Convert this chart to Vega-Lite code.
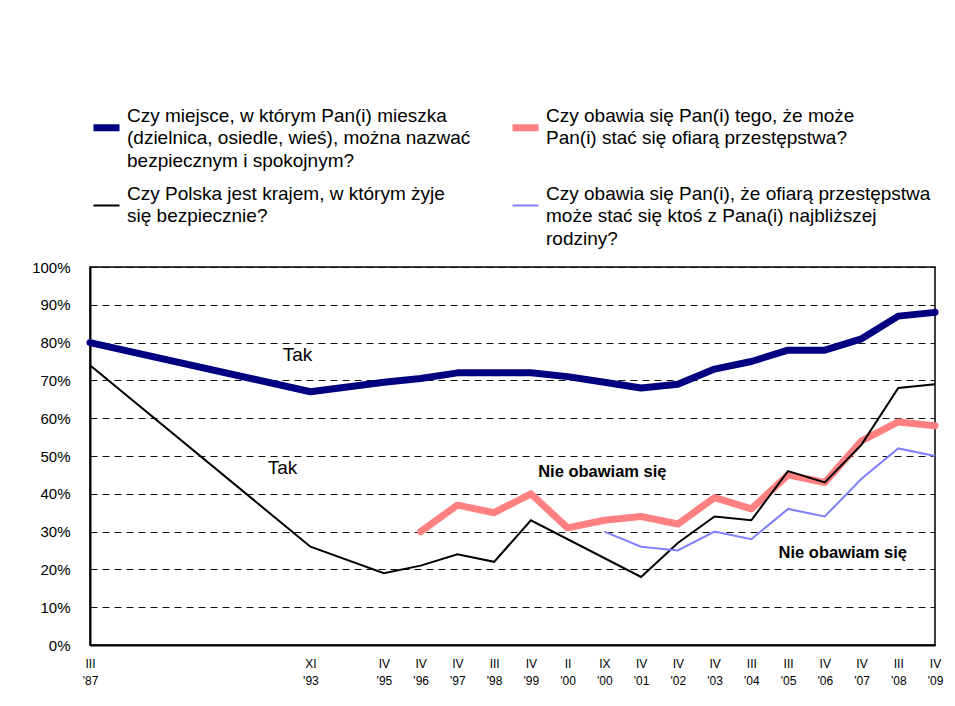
{
  "$schema": "https://vega.github.io/schema/vega-lite/v6.json",
  "width": 845,
  "height": 378,
  "autosize": {"type": "none"},
  "padding": {"left": 90, "top": 267, "right": 20, "bottom": 61},
  "background": "white",
  "config": {
    "font": "Liberation Sans",
    "view": {"stroke": "black", "strokeWidth": 1.5}
  },
  "data": {
    "values": [
      {"period": "III '87", "s": "Czy miejsce, w którym Pan(i) mieszka\n(dzielnica, osiedle, wieś), można nazwać\nbezpiecznym i spokojnym?", "v": 80},
      {"period": "XI '93", "s": "Czy miejsce, w którym Pan(i) mieszka\n(dzielnica, osiedle, wieś), można nazwać\nbezpiecznym i spokojnym?", "v": 67},
      {"period": "IV '95", "s": "Czy miejsce, w którym Pan(i) mieszka\n(dzielnica, osiedle, wieś), można nazwać\nbezpiecznym i spokojnym?", "v": 69.5},
      {"period": "IV '96", "s": "Czy miejsce, w którym Pan(i) mieszka\n(dzielnica, osiedle, wieś), można nazwać\nbezpiecznym i spokojnym?", "v": 70.5},
      {"period": "IV '97", "s": "Czy miejsce, w którym Pan(i) mieszka\n(dzielnica, osiedle, wieś), można nazwać\nbezpiecznym i spokojnym?", "v": 72},
      {"period": "III '98", "s": "Czy miejsce, w którym Pan(i) mieszka\n(dzielnica, osiedle, wieś), można nazwać\nbezpiecznym i spokojnym?", "v": 72},
      {"period": "IV '99", "s": "Czy miejsce, w którym Pan(i) mieszka\n(dzielnica, osiedle, wieś), można nazwać\nbezpiecznym i spokojnym?", "v": 72},
      {"period": "II '00", "s": "Czy miejsce, w którym Pan(i) mieszka\n(dzielnica, osiedle, wieś), można nazwać\nbezpiecznym i spokojnym?", "v": 71},
      {"period": "IX '00", "s": "Czy miejsce, w którym Pan(i) mieszka\n(dzielnica, osiedle, wieś), można nazwać\nbezpiecznym i spokojnym?", "v": 69.5},
      {"period": "IV '01", "s": "Czy miejsce, w którym Pan(i) mieszka\n(dzielnica, osiedle, wieś), można nazwać\nbezpiecznym i spokojnym?", "v": 68},
      {"period": "IV '02", "s": "Czy miejsce, w którym Pan(i) mieszka\n(dzielnica, osiedle, wieś), można nazwać\nbezpiecznym i spokojnym?", "v": 69},
      {"period": "IV '03", "s": "Czy miejsce, w którym Pan(i) mieszka\n(dzielnica, osiedle, wieś), można nazwać\nbezpiecznym i spokojnym?", "v": 73},
      {"period": "III '04", "s": "Czy miejsce, w którym Pan(i) mieszka\n(dzielnica, osiedle, wieś), można nazwać\nbezpiecznym i spokojnym?", "v": 75},
      {"period": "III '05", "s": "Czy miejsce, w którym Pan(i) mieszka\n(dzielnica, osiedle, wieś), można nazwać\nbezpiecznym i spokojnym?", "v": 78},
      {"period": "IV '06", "s": "Czy miejsce, w którym Pan(i) mieszka\n(dzielnica, osiedle, wieś), można nazwać\nbezpiecznym i spokojnym?", "v": 78},
      {"period": "IV '07", "s": "Czy miejsce, w którym Pan(i) mieszka\n(dzielnica, osiedle, wieś), można nazwać\nbezpiecznym i spokojnym?", "v": 81},
      {"period": "III '08", "s": "Czy miejsce, w którym Pan(i) mieszka\n(dzielnica, osiedle, wieś), można nazwać\nbezpiecznym i spokojnym?", "v": 87},
      {"period": "IV '09", "s": "Czy miejsce, w którym Pan(i) mieszka\n(dzielnica, osiedle, wieś), można nazwać\nbezpiecznym i spokojnym?", "v": 88},

      {"period": "IV '96", "s": "Czy obawia się Pan(i) tego, że może\nPan(i) stać się ofiarą przestępstwa?", "v": 30},
      {"period": "IV '97", "s": "Czy obawia się Pan(i) tego, że może\nPan(i) stać się ofiarą przestępstwa?", "v": 37},
      {"period": "III '98", "s": "Czy obawia się Pan(i) tego, że może\nPan(i) stać się ofiarą przestępstwa?", "v": 35},
      {"period": "IV '99", "s": "Czy obawia się Pan(i) tego, że może\nPan(i) stać się ofiarą przestępstwa?", "v": 40},
      {"period": "II '00", "s": "Czy obawia się Pan(i) tego, że może\nPan(i) stać się ofiarą przestępstwa?", "v": 31},
      {"period": "IX '00", "s": "Czy obawia się Pan(i) tego, że może\nPan(i) stać się ofiarą przestępstwa?", "v": 33},
      {"period": "IV '01", "s": "Czy obawia się Pan(i) tego, że może\nPan(i) stać się ofiarą przestępstwa?", "v": 34},
      {"period": "IV '02", "s": "Czy obawia się Pan(i) tego, że może\nPan(i) stać się ofiarą przestępstwa?", "v": 32},
      {"period": "IV '03", "s": "Czy obawia się Pan(i) tego, że może\nPan(i) stać się ofiarą przestępstwa?", "v": 39},
      {"period": "III '04", "s": "Czy obawia się Pan(i) tego, że może\nPan(i) stać się ofiarą przestępstwa?", "v": 36},
      {"period": "III '05", "s": "Czy obawia się Pan(i) tego, że może\nPan(i) stać się ofiarą przestępstwa?", "v": 45},
      {"period": "IV '06", "s": "Czy obawia się Pan(i) tego, że może\nPan(i) stać się ofiarą przestępstwa?", "v": 43},
      {"period": "IV '07", "s": "Czy obawia się Pan(i) tego, że może\nPan(i) stać się ofiarą przestępstwa?", "v": 54},
      {"period": "III '08", "s": "Czy obawia się Pan(i) tego, że może\nPan(i) stać się ofiarą przestępstwa?", "v": 59},
      {"period": "IV '09", "s": "Czy obawia się Pan(i) tego, że może\nPan(i) stać się ofiarą przestępstwa?", "v": 58},

      {"period": "III '87", "s": "Czy Polska jest krajem, w którym żyje\nsię bezpiecznie?", "v": 74},
      {"period": "XI '93", "s": "Czy Polska jest krajem, w którym żyje\nsię bezpiecznie?", "v": 26},
      {"period": "IV '95", "s": "Czy Polska jest krajem, w którym żyje\nsię bezpiecznie?", "v": 19},
      {"period": "IV '96", "s": "Czy Polska jest krajem, w którym żyje\nsię bezpiecznie?", "v": 21},
      {"period": "IV '97", "s": "Czy Polska jest krajem, w którym żyje\nsię bezpiecznie?", "v": 24},
      {"period": "III '98", "s": "Czy Polska jest krajem, w którym żyje\nsię bezpiecznie?", "v": 22},
      {"period": "IV '99", "s": "Czy Polska jest krajem, w którym żyje\nsię bezpiecznie?", "v": 33},
      {"period": "IV '01", "s": "Czy Polska jest krajem, w którym żyje\nsię bezpiecznie?", "v": 18},
      {"period": "IV '02", "s": "Czy Polska jest krajem, w którym żyje\nsię bezpiecznie?", "v": 27},
      {"period": "IV '03", "s": "Czy Polska jest krajem, w którym żyje\nsię bezpiecznie?", "v": 34},
      {"period": "III '04", "s": "Czy Polska jest krajem, w którym żyje\nsię bezpiecznie?", "v": 33},
      {"period": "III '05", "s": "Czy Polska jest krajem, w którym żyje\nsię bezpiecznie?", "v": 46},
      {"period": "IV '06", "s": "Czy Polska jest krajem, w którym żyje\nsię bezpiecznie?", "v": 43},
      {"period": "IV '07", "s": "Czy Polska jest krajem, w którym żyje\nsię bezpiecznie?", "v": 53},
      {"period": "III '08", "s": "Czy Polska jest krajem, w którym żyje\nsię bezpiecznie?", "v": 68},
      {"period": "IV '09", "s": "Czy Polska jest krajem, w którym żyje\nsię bezpiecznie?", "v": 69},

      {"period": "IX '00", "s": "Czy obawia się Pan(i), że ofiarą przestępstwa\nmoże stać się ktoś z Pana(i) najbliższej\nrodziny?", "v": 30},
      {"period": "IV '01", "s": "Czy obawia się Pan(i), że ofiarą przestępstwa\nmoże stać się ktoś z Pana(i) najbliższej\nrodziny?", "v": 26},
      {"period": "IV '02", "s": "Czy obawia się Pan(i), że ofiarą przestępstwa\nmoże stać się ktoś z Pana(i) najbliższej\nrodziny?", "v": 25},
      {"period": "IV '03", "s": "Czy obawia się Pan(i), że ofiarą przestępstwa\nmoże stać się ktoś z Pana(i) najbliższej\nrodziny?", "v": 30},
      {"period": "III '04", "s": "Czy obawia się Pan(i), że ofiarą przestępstwa\nmoże stać się ktoś z Pana(i) najbliższej\nrodziny?", "v": 28},
      {"period": "III '05", "s": "Czy obawia się Pan(i), że ofiarą przestępstwa\nmoże stać się ktoś z Pana(i) najbliższej\nrodziny?", "v": 36},
      {"period": "IV '06", "s": "Czy obawia się Pan(i), że ofiarą przestępstwa\nmoże stać się ktoś z Pana(i) najbliższej\nrodziny?", "v": 34},
      {"period": "IV '07", "s": "Czy obawia się Pan(i), że ofiarą przestępstwa\nmoże stać się ktoś z Pana(i) najbliższej\nrodziny?", "v": 44},
      {"period": "III '08", "s": "Czy obawia się Pan(i), że ofiarą przestępstwa\nmoże stać się ktoś z Pana(i) najbliższej\nrodziny?", "v": 52},
      {"period": "IV '09", "s": "Czy obawia się Pan(i), że ofiarą przestępstwa\nmoże stać się ktoś z Pana(i) najbliższej\nrodziny?", "v": 50}
    ]
  },
  "encoding": {
    "x": {
      "field": "period",
      "type": "ordinal",
      "scale": {
        "type": "point",
        "padding": 0,
        "domain": ["III '87", " ", "  ", "   ", "    ", "     ", "XI '93", "      ", "IV '95", "IV '96", "IV '97", "III '98", "IV '99", "II '00", "IX '00", "IV '01", "IV '02", "IV '03", "III '04", "III '05", "IV '06", "IV '07", "III '08", "IV '09"]
      },
      "axis": {
        "title": null,
        "orient": "bottom",
        "labelAngle": 0,
        "labelExpr": "split(datum.label, ' ')",
        "labelFontSize": 12,
        "labelLineHeight": 17,
        "labelColor": "black",
        "labelPadding": 13,
        "labelOverlap": false,
        "ticks": false,
        "domainColor": "black",
        "domainWidth": 2
      }
    },
    "y": {
      "field": "v",
      "type": "quantitative",
      "scale": {"domain": [0, 100], "nice": false},
      "axis": {
        "title": null,
        "values": [0, 10, 20, 30, 40, 50, 60, 70, 80, 90, 100],
        "labelExpr": "datum.value + '%'",
        "labelFontSize": 15,
        "labelColor": "black",
        "labelPadding": 20,
        "labelOverlap": false,
        "ticks": false,
        "domainColor": "black",
        "domainWidth": 2,
        "grid": true,
        "gridColor": "#111111",
        "gridDash": [7, 5],
        "gridWidth": 1
      }
    }
  },
  "layer": [
    {
      "transform": [
        {"filter": "indexof(datum.s, 'Czy miejsce') == 0 || indexof(datum.s, 'tego') > 0"}
      ],
      "mark": {"type": "line", "strokeWidth": 7, "strokeCap": "round", "strokeJoin": "round"},
      "encoding": {
        "stroke": {
          "field": "s",
          "type": "nominal",
          "scale": {
            "domain": [
              "Czy miejsce, w którym Pan(i) mieszka\n(dzielnica, osiedle, wieś), można nazwać\nbezpiecznym i spokojnym?",
              "Czy Polska jest krajem, w którym żyje\nsię bezpiecznie?",
              "Czy obawia się Pan(i) tego, że może\nPan(i) stać się ofiarą przestępstwa?",
              "Czy obawia się Pan(i), że ofiarą przestępstwa\nmoże stać się ktoś z Pana(i) najbliższej\nrodziny?"
            ],
            "range": ["#000080", "#000000", "#FF8080", "#8080FF"]
          },
          "legend": {
            "title": null,
            "orient": "none",
            "legendX": 7,
            "legendY": -149,
            "columns": 2,
            "columnPadding": 27,
            "rowPadding": 13,
            "padding": 0,
            "symbolType": "stroke",
            "symbolSize": 676,
            "labelFontSize": 19,
            "labelColor": "black",
            "labelLimit": 700,
            "labelOffset": 11,
            "labelExpr": "length(split(datum.label, '\\n')) < 3 ? split(datum.label + '\\n\u00a0', '\\n') : split(datum.label, '\\n')",
            "encode": {
              "labels": {"update": {"lineHeight": {"value": 22.5}, "dy": {"value": -12}}},
              "symbols": {"update": {"strokeWidth": {"signal": "datum.index % 2 == 0 ? 7 : 2"}}}
            }
          }
        }
      }
    },
    {
      "transform": [
        {"filter": "indexof(datum.s, 'Czy Polska') == 0 || indexof(datum.s, 'rodziny') > 0"}
      ],
      "mark": {"type": "line", "strokeWidth": 2},
      "encoding": {
        "stroke": {
          "field": "s",
          "type": "nominal",
          "scale": {
            "domain": [
              "Czy miejsce, w którym Pan(i) mieszka\n(dzielnica, osiedle, wieś), można nazwać\nbezpiecznym i spokojnym?",
              "Czy Polska jest krajem, w którym żyje\nsię bezpiecznie?",
              "Czy obawia się Pan(i) tego, że może\nPan(i) stać się ofiarą przestępstwa?",
              "Czy obawia się Pan(i), że ofiarą przestępstwa\nmoże stać się ktoś z Pana(i) najbliższej\nrodziny?"
            ],
            "range": ["#000080", "#000000", "#FF8080", "#8080FF"]
          }
        }
      }
    },
    {
      "data": {"values": [{"period": "XI '93", "v": 76.7, "t": "Tak"}]},
      "mark": {"type": "text", "fontSize": 19, "color": "black", "dx": -13, "baseline": "middle"},
      "encoding": {"text": {"field": "t"}}
    },
    {
      "data": {"values": [{"period": "XI '93", "v": 46.8, "t": "Tak"}]},
      "mark": {"type": "text", "fontSize": 19, "color": "black", "dx": -28, "baseline": "middle"},
      "encoding": {"text": {"field": "t"}}
    },
    {
      "data": {"values": [{"period": "IX '00", "v": 45.8, "t": "Nie obawiam się"}]},
      "mark": {"type": "text", "fontSize": 16.5, "fontWeight": "bold", "color": "black", "dx": -2, "baseline": "middle"},
      "encoding": {"text": {"field": "t"}}
    },
    {
      "data": {"values": [{"period": "IV '06", "v": 24.3, "t": "Nie obawiam się"}]},
      "mark": {"type": "text", "fontSize": 16.5, "fontWeight": "bold", "color": "black", "dx": 18, "baseline": "middle"},
      "encoding": {"text": {"field": "t"}}
    }
  ]
}
